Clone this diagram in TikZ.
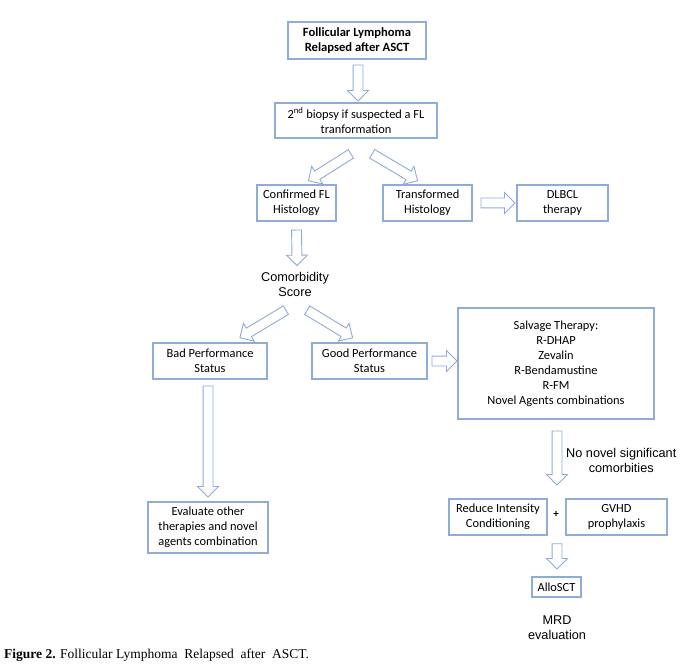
\documentclass[tikz,border=0pt]{standalone}
\usepackage{fontspec}
\setmainfont{Carlito}
\newfontfamily\arialfont{Liberation Sans}
\newfontfamily\timesfont{Liberation Serif}
\usetikzlibrary{calc, shapes.arrows}

\definecolor{boxblue}{RGB}{143,172,214}

% hollow block arrow between two points
\newcommand{\blockarrow}[2]{%
  \path let \p1=(#1), \p2=(#2),
    \n1={veclen(\x2-\x1,\y2-\y1)}, \n2={atan2(\y2-\y1,\x2-\x1)} in
    node[hollowarrow, minimum height=\n1, rotate=\n2] at ($(\p1)!0.5!(\p2)$) {};
}

\tikzset{
  box/.style={draw=boxblue, line width=1.1pt, align=center, inner sep=2pt,
    font=\fontsize{12.4}{15}\selectfont},
  plain/.style={align=center, inner sep=0pt, font=\arialfont\fontsize{12.7}{15}\selectfont},
  hollowarrow/.style={single arrow, draw=boxblue, fill=white, line width=0.9pt,
    inner xsep=0pt, inner ysep=4.5pt, minimum width=20pt,
    single arrow head extend=5.5pt, single arrow head indent=0pt}
}

\begin{document}
\begin{tikzpicture}[x=1pt, y=-1pt]

    \useasboundingbox (0,0) rectangle (688,668);

    % TOP
    \node[box, minimum width=138, minimum height=37, font=\bfseries\fontsize{12.6}{15}\selectfont]
        (relapse) at (357,40.5) {Follicular Lymphoma\\Relapsed after ASCT};
    \node[box, minimum width=162, minimum height=35]
        (biopsy) at (356,120.5) {2\textsuperscript{nd} biopsy if suspected a FL\\tranformation};

    % HISTOLOGY
    \node[box, minimum width=79, minimum height=36] (confirmed) at (296.5,203) {Confirmed FL\\Histology};
    \node[box, minimum width=89, minimum height=36] (transformed) at (427.5,203) {Transformed\\Histology};
    \node[box, minimum width=91, minimum height=36] (dlbcl) at (562.5,203) {DLBCL\\therapy};
    \node[plain] (comorb) at (295,284.5) {Comorbidity\\Score};

    % PERFORMANCE STATUS
    \node[box, minimum width=114, minimum height=36] (bad) at (210,361) {Bad Performance\\Status};
    \node[box, minimum width=115, minimum height=36] (good) at (369.5,361) {Good Performance\\Status};
    \node[box, minimum width=196, minimum height=111] (salvage) at (556,363.5)
        {Salvage Therapy:\\R-DHAP\\Zevalin\\R-Bendamustine\\R-FM\\Novel Agents combinations};
    \node[box, minimum width=120, minimum height=51] (evaluate) at (208,527.5)
        {Evaluate other\\therapies and novel\\agents combination};

    % TRANSPLANT
    \node[plain, anchor=west] (nonovel) at (566,460) {No novel significant\\comorbities};
    \node[box, minimum width=98, minimum height=36] (reduce) at (498,517) {Reduce Intensity\\Conditioning};
    \node[inner sep=0pt, font=\bfseries\fontsize{11}{15}\selectfont] (plus) at (556,514) {+};
    \node[box, minimum width=101, minimum height=36] (gvhd) at (616.5,517) {GVHD\\prophylaxis};
    \node[box, minimum width=49, minimum height=20] (allo) at (556.5,587) {AlloSCT};
    \node[plain] (mrd) at (557,627.5) {MRD\\evaluation};

    % ARROWS
    \blockarrow{$(relapse.south)+(1,3)$}{$(biopsy.north)+(2,-4)$}
    \blockarrow{$(biopsy.south)+(-3,14)$}{$(confirmed.north)+(14,-5)$}
    \blockarrow{$(biopsy.south)+(14,14)$}{$(transformed.north)+(-12,-5)$}
    \blockarrow{$(transformed.east)+(6,0)$}{$(dlbcl.west)+(-4,0)$}
    \blockarrow{$(confirmed.south)+(0,6)$}{$(comorb.north)+(2,-9)$}
    \blockarrow{$(comorb.south)+(-7,12)$}{$(bad.north)+(32,-6)$}
    \blockarrow{$(comorb.south)+(10,12)$}{$(good.north)+(-19,-6)$}
    \blockarrow{$(good.east)+(2,0)$}{$(salvage.west)+(-3,-2.5)$}
    \blockarrow{$(bad.south)+(-2,4)$}{$(evaluate.north)+(0,-7)$}
    \blockarrow{$(salvage.south)+(1,9)$}{$(gvhd.north)+(-59.5,-16)$}
    \blockarrow{$(plus.south)+(1,24)$}{$(allo.north)+(0.5,-10)$}

    % CAPTION
    \node[anchor=base west, inner sep=0pt, font=\timesfont\fontsize{13.5}{16}\selectfont]
        (caption) at (4,658) {\textbf{Figure 2.} Follicular\ Lymphoma\ \ Relapsed\ \ after\ \ ASCT.};

\end{tikzpicture}
\end{document}
